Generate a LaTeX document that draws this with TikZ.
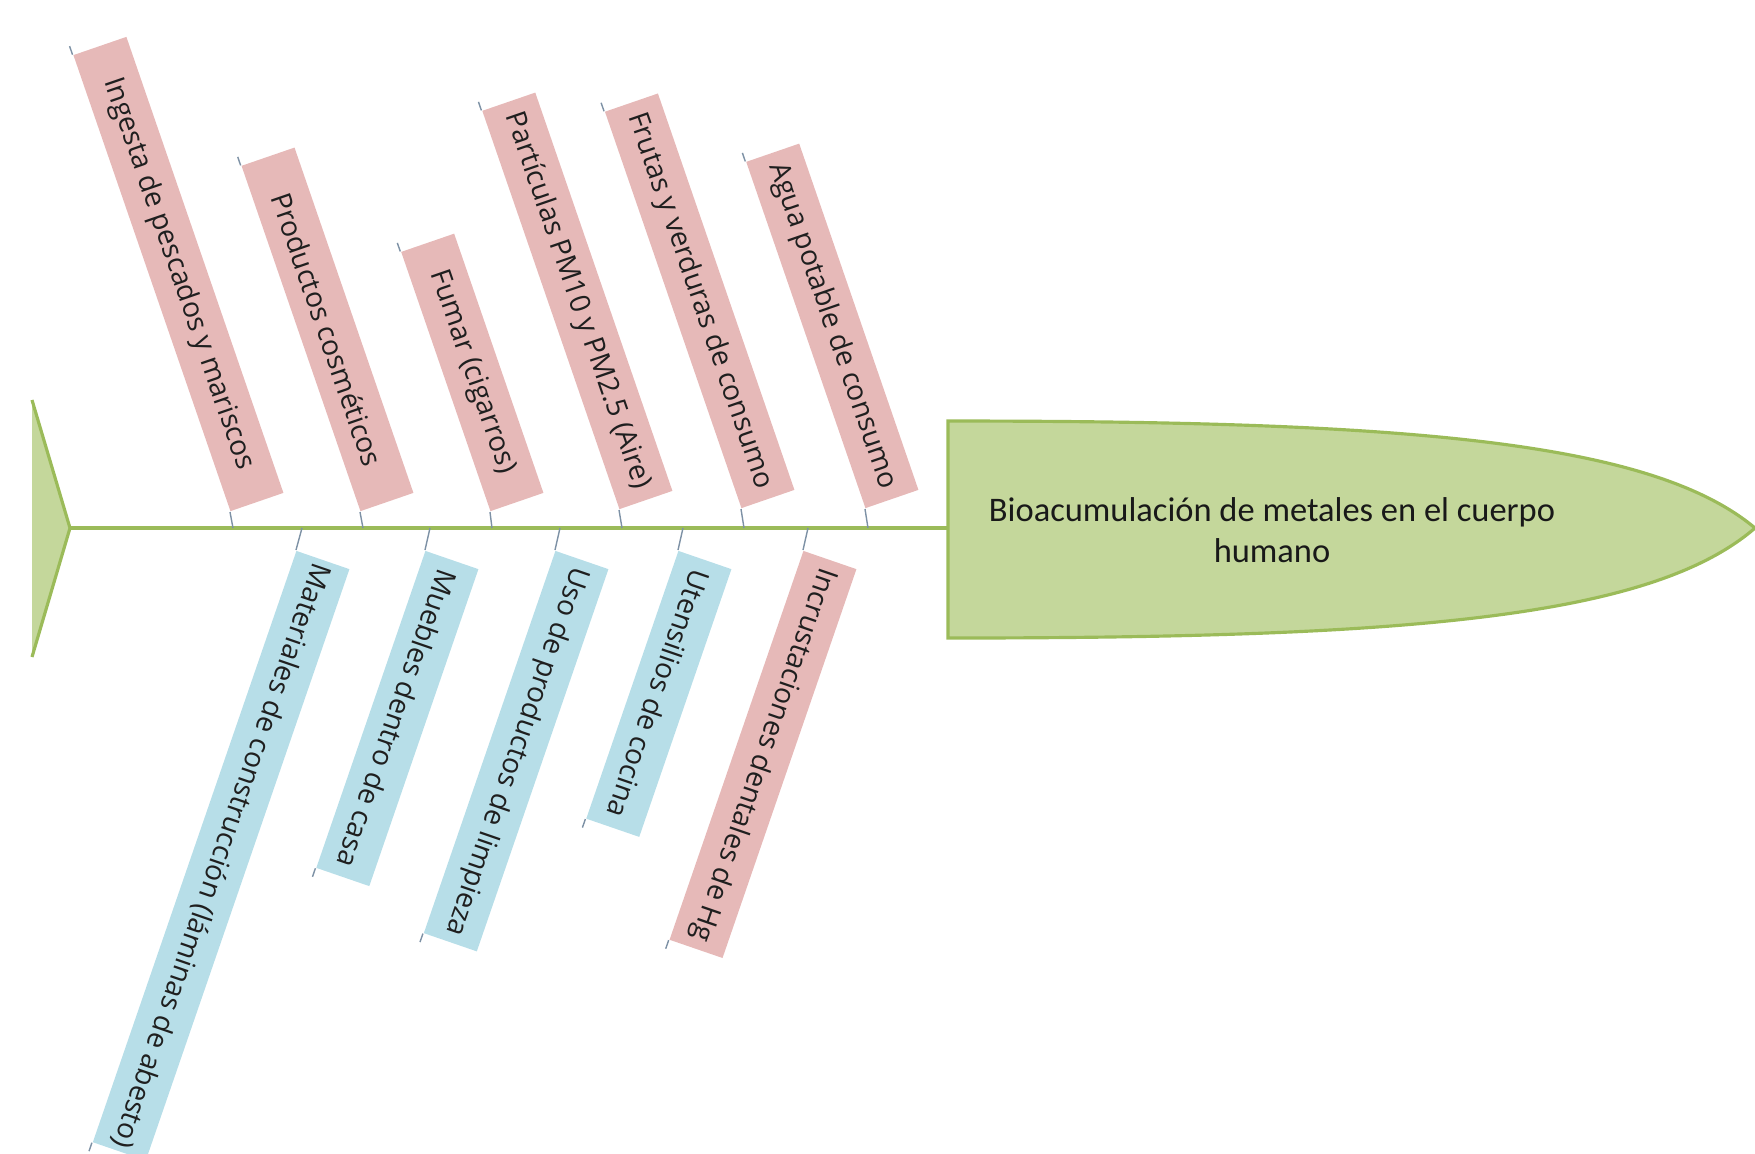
\documentclass[tikz,border=0pt]{standalone}
\usepackage{fontspec}
\setmainfont{Open Sans}
\newfontfamily\headfont{Carlito}
\usetikzlibrary{calc}

\definecolor{rosa}{RGB}{230,185,184}
\definecolor{celeste}{RGB}{183,222,232}
\definecolor{verde}{RGB}{155,187,89}
\definecolor{verdeclaro}{RGB}{196,215,155}
\definecolor{tallo}{RGB}{125,145,165}

\begin{document}
\begin{tikzpicture}[x=0.01cm, y=0.01cm,
    cause/.style = {rectangle, inner sep=0pt, minimum height=0.56cm, text=black!88, font=\fontsize{8}{10}\selectfont},
    upper/.style = {cause, fill=rosa, rotate=-71, anchor=south east, minimum width=#1},
    lower/.style = {cause, fill=celeste, rotate=-109, anchor=south west, minimum width=#1},
    stem/.style = {draw=tallo, line width=0.4pt},
    spine/.style = {draw=verde, line width=1.1pt}]

    \useasboundingbox (0,0) rectangle (1755,-1153);

    % cabeza y cola
    \fill[verdeclaro] (32,-400) -- (70,-528) -- (32,-657) -- cycle;
    \draw[verde, line width=0.9pt] (32,-400) -- (70,-528) -- (32,-657);
    \filldraw[fill=verdeclaro, draw=verde, line width=0.9pt] (948,-421) .. controls (1400,-421) and (1650,-440) .. (1755,-528)
        .. controls (1650,-619) and (1400,-638) .. (948,-638) -- cycle;
    \node[font=\headfont\fontsize{9.8}{11.7}\selectfont, align=center, text=black!90] (head) at (1272,-530)
        {Bioacumulación de metales en el cuerpo\\humano};

    \coordinate (tail) at (70,-528);
    \coordinate (neck) at (948,-528);
    \draw[spine] (tail) -- (neck);

    \foreach \n/\x in {1/233,2/363,3/492,4/622,5/744,6/868,7/302,8/430,9/560,10/683,11/808}
        \coordinate (s\n) at (\x,-528);

    \node[upper=4.82cm] (1) at (230,-512) {Ingesta de pescados y mariscos};
    \node[upper=3.65cm] (2) at (360,-512) {Productos cosméticos};
    \node[upper=2.74cm] (3) at (490,-512) {Fumar (cigarros)};
    \node[upper=4.21cm] (4) at (619,-510) {Partículas PM10 y PM2.5 (Aire)};
    \node[upper=4.19cm] (5) at (741,-509) {Frutas y verduras de consumo};
    \node[upper=3.66cm] (6) at (865,-509) {Agua potable de consumo};

    \node[lower=6.25cm] (7) at (296,-550) {Materiales de construcción (láminas de abesto)};
    \node[lower=3.35cm] (8) at (425,-550) {Muebles dentro de casa};
    \node[lower=4.04cm] (9) at (555,-550) {Uso de productos de limpieza};
    \node[lower=2.83cm] (10) at (678,-550) {Utensilios de cocina};
    \node[lower=4.11cm, fill=rosa] (11) at (803,-550) {Incrustaciones dentales de Hg};

    \foreach \n in {1,...,6} {
        \draw[stem] (\n.south east) -- (s\n);
        \draw[stem] (\n.south west) -- ++(109:9);
    }
    \foreach \n in {7,...,11} {
        \draw[stem] (s\n) -- (\n.south west);
        \draw[stem] (\n.south east) -- ++(-109:9);
    }
\end{tikzpicture}
\end{document}
